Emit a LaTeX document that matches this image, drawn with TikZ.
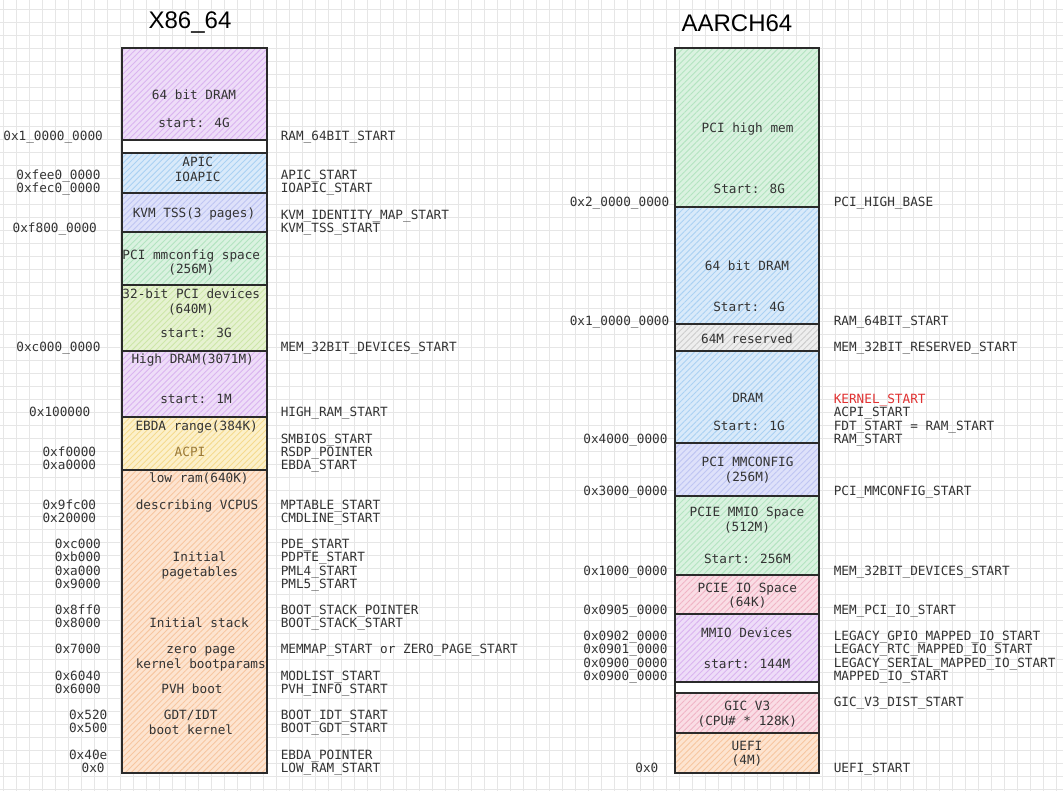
\documentclass[tikz,border=0pt]{standalone}
\usepackage{fontspec}
\usetikzlibrary{patterns.meta}
\newfontfamily\monofam{DejaVu Sans Mono}
\newfontfamily\titlefam{Liberation Sans}
\definecolor{gridc}{HTML}{E6E6E6}
\definecolor{linec}{HTML}{2A2A2A}
\definecolor{txtc}{HTML}{333333}
\definecolor{acpic}{HTML}{9A7A3A}
\definecolor{redc}{HTML}{E03131}
\definecolor{purpleb}{HTML}{EEDDF8}\definecolor{purpleh}{HTML}{DAB4F0}
\definecolor{blueb}{HTML}{D9EAFA}\definecolor{blueh}{HTML}{AAD1F3}
\definecolor{lavb}{HTML}{DEE1FA}\definecolor{lavh}{HTML}{BFC5F3}
\definecolor{greenb}{HTML}{DAF2E0}\definecolor{greenh}{HTML}{B3E4C0}
\definecolor{ygreenb}{HTML}{E6F2D1}\definecolor{ygreenh}{HTML}{CDE6A8}
\definecolor{yellowb}{HTML}{FCF0CA}\definecolor{yellowh}{HTML}{F5DA8E}
\definecolor{orangeb}{HTML}{FDE4D0}\definecolor{orangeh}{HTML}{F7C6A0}
\definecolor{pinkb}{HTML}{FADDE5}\definecolor{pinkh}{HTML}{F0B4C5}
\definecolor{grayb}{HTML}{EEEEEE}\definecolor{grayh}{HTML}{CCCCCC}
\begin{document}
\begin{tikzpicture}[x=1pt,y=-1pt,
  gridline/.style={draw=gridc, line width=0.7pt},
  mbox/.style={draw=linec, line width=1.6pt, inner sep=0pt,
    preaction={fill=#1b},
    pattern={Lines[angle=45,distance=4.2pt,line width=0.9pt]}, pattern color=#1h},
  gapbox/.style={draw=linec, line width=1.6pt, inner sep=0pt, fill=white},
  txt/.style={font={\monofam\fontsize{12.7}{14}\selectfont}, text=txtc, inner sep=0pt, text height=9.2pt, text depth=0pt},
  lab/.style={txt, anchor=west},
  adr/.style={txt, anchor=east},
  ttl/.style={font={\titlefam\fontsize{24}{28}\selectfont}, text=black, inner sep=0pt}
]
\useasboundingbox (0,0) rectangle (1063,791);
\fill[white] (0,0) rectangle (1063,791);
% grid
\foreach \i in {0,...,81} {\draw[gridline] ({3+13*\i},0) -- ({3+13*\i},791);}
\foreach \j in {0,...,60} {\draw[gridline] (0,{9+13*\j}) -- (1063,{9+13*\j});}

% titles
\node[ttl] (t1) at (190,23) {X86\_64};
\node[ttl] (t2) at (737,23) {AARCH64};

% ---------- left column boxes (x 122..267) ----------
\node[mbox=purple, minimum width=145pt, minimum height=92pt] (l1) at (194.5,94) {};
\node[gapbox, minimum width=145pt, minimum height=13pt] (lg) at (194.5,146.5) {};
\node[mbox=blue, minimum width=145pt, minimum height=40pt] (l2) at (194.5,173) {};
\node[mbox=lav, minimum width=145pt, minimum height=39pt] (l3) at (194.5,212.5) {};
\node[mbox=green, minimum width=145pt, minimum height=53pt] (l4) at (194.5,258.5) {};
\node[mbox=ygreen, minimum width=145pt, minimum height=66pt] (l5) at (194.5,318) {};
\node[mbox=purple, minimum width=145pt, minimum height=66pt] (l6) at (194.5,384) {};
\node[mbox=yellow, minimum width=145pt, minimum height=53pt] (l7) at (194.5,443.5) {};
\node[mbox=orange, minimum width=145pt, minimum height=303pt] (l8) at (194.5,621.5) {};

% ---------- right column boxes (x 675..819) ----------
\node[mbox=green, minimum width=144pt, minimum height=159pt] (r1) at (747,127.5) {};
\node[mbox=blue, minimum width=144pt, minimum height=117pt] (r2) at (747,265.5) {};
\node[mbox=gray, minimum width=144pt, minimum height=27pt] (r3) at (747,337.5) {};
\node[mbox=blue, minimum width=144pt, minimum height=92pt] (r4) at (747,397) {};
\node[mbox=lav, minimum width=144pt, minimum height=53pt] (r5) at (747,469.5) {};
\node[mbox=green, minimum width=144pt, minimum height=79pt] (r6) at (747,535.5) {};
\node[mbox=pink, minimum width=144pt, minimum height=39pt] (r7) at (747,594.5) {};
\node[mbox=purple, minimum width=144pt, minimum height=68pt] (r8) at (747,648) {};
\node[gapbox, minimum width=144pt, minimum height=11pt] (rg) at (747,687.5) {};
\node[mbox=pink, minimum width=144pt, minimum height=40pt] (r9) at (747,713) {};
\node[mbox=orange, minimum width=144pt, minimum height=40pt] (r10) at (747,753) {};

% ---------- left column box texts ----------
\node[txt] (l1a) at (194,95) {64 bit DRAM};
\node[txt] (l1b) at (194,122.7) {start: 4G};
\node[txt] (l2a) at (197.7,162.3) {APIC};
\node[txt] (l2b) at (197.7,176.7) {IOAPIC};
\node[txt] (l3a) at (194,213.3) {KVM TSS(3 pages)};
\node[txt] (l4a) at (191.3,255) {PCI mmconfig space};
\node[txt] (l4b) at (191.3,269.3) {(256M)};
\node[txt] (l5a) at (191.3,294) {32-bit PCI devices};
\node[txt] (l5b) at (191,309) {(640M)};
\node[txt] (l5c) at (196,333.3) {start: 3G};
\node[txt] (l6a) at (192.7,359.3) {High DRAM(3071M)};
\node[txt] (l6b) at (196,399.3) {start: 1M};
\node[txt] (l7a) at (196.7,425.7) {EBDA range(384K)};
\node[txt, text=acpic] (l7b) at (190,452) {ACPI};
\node[txt] (l8a) at (198.9,478.3) {low ram(640K)};
\node[txt] (l8b) at (197,505) {describing VCPUS};
\node[txt] (l8c) at (199.5,557.3) {Initial};
\node[txt] (l8d) at (199.9,572.3) {pagetables};
\node[txt] (l8e) at (199,623.3) {Initial stack};
\node[txt] (l8f) at (200.8,649.3) {zero page};
\node[txt] (l8g) at (200.8,664) {kernel bootparams};
\node[txt] (l8h) at (192,689) {PVH boot};
\node[txt] (l8i) at (190.7,715) {GDT/IDT};
\node[txt] (l8j) at (191,730) {boot kernel};

% ---------- left column addresses ----------
\node[adr] (la1) at (103,136) {0x1\_0000\_0000};
\node[adr] (la2) at (100.7,175) {0xfee0\_0000};
\node[adr] (la3) at (100.7,188.3) {0xfec0\_0000};
\node[adr] (la4) at (97,228.3) {0xf800\_0000};
\node[adr] (la5) at (100.7,346.7) {0xc000\_0000};
\node[adr] (la6) at (90.6,412.3) {0x100000};
\node[adr] (la7) at (96.3,452) {0xf0000};
\node[adr] (la8) at (96.3,465) {0xa0000};
\node[adr] (la9) at (96.3,505) {0x9fc00};
\node[adr] (la10) at (96.3,517.7) {0x20000};
\node[adr] (la11) at (101,544) {0xc000};
\node[adr] (la12) at (101,557.3) {0xb000};
\node[adr] (la13) at (101,570.7) {0xa000};
\node[adr] (la14) at (101,583.7) {0x9000};
\node[adr] (la15) at (101,610) {0x8ff0};
\node[adr] (la16) at (101,623.3) {0x8000};
\node[adr] (la17) at (101,649.3) {0x7000};
\node[adr] (la18) at (101,675.7) {0x6040};
\node[adr] (la19) at (101,689) {0x6000};
\node[adr] (la20) at (107.5,715) {0x520};
\node[adr] (la21) at (107.5,728.3) {0x500};
\node[adr] (la22) at (107.5,755) {0x40e};
\node[adr] (la23) at (104.8,768.3) {0x0};

% ---------- left column names ----------
\node[lab] (ln1) at (280.6,136) {RAM\_64BIT\_START};
\node[lab] (ln2) at (280.6,175) {APIC\_START};
\node[lab] (ln3) at (280.6,188.3) {IOAPIC\_START};
\node[lab] (ln4) at (280.6,215) {KVM\_IDENTITY\_MAP\_START};
\node[lab] (ln5) at (280.6,228.3) {KVM\_TSS\_START};
\node[lab] (ln6) at (280.6,346.7) {MEM\_32BIT\_DEVICES\_START};
\node[lab] (ln7) at (280.6,412.3) {HIGH\_RAM\_START};
\node[lab] (ln8) at (280.6,439) {SMBIOS\_START};
\node[lab] (ln9) at (280.6,452) {RSDP\_POINTER};
\node[lab] (ln10) at (280.6,465) {EBDA\_START};
\node[lab] (ln11) at (280.6,505) {MPTABLE\_START};
\node[lab] (ln12) at (280.6,517.7) {CMDLINE\_START};
\node[lab] (ln13) at (280.6,544) {PDE\_START};
\node[lab] (ln14) at (280.6,557.3) {PDPTE\_START};
\node[lab] (ln15) at (280.6,570.7) {PML4\_START};
\node[lab] (ln16) at (280.6,583.7) {PML5\_START};
\node[lab] (ln17) at (280.6,610) {BOOT\_STACK\_POINTER};
\node[lab] (ln18) at (280.6,623.3) {BOOT\_STACK\_START};
\node[lab] (ln19) at (280.6,649.3) {MEMMAP\_START or ZERO\_PAGE\_START};
\node[lab] (ln20) at (280.6,675.7) {MODLIST\_START};
\node[lab] (ln21) at (280.6,689) {PVH\_INFO\_START};
\node[lab] (ln22) at (280.6,715) {BOOT\_IDT\_START};
\node[lab] (ln23) at (280.6,728.3) {BOOT\_GDT\_START};
\node[lab] (ln24) at (280.6,755) {EBDA\_POINTER};
\node[lab] (ln25) at (280.6,768.3) {LOW\_RAM\_START};

% ---------- right column box texts ----------
\node[txt] (r1a) at (747.6,128.3) {PCI high mem};
\node[txt] (r1b) at (749.3,188.7) {Start: 8G};
\node[txt] (r2a) at (747,266) {64 bit DRAM};
\node[txt] (r2b) at (749,306.7) {Start: 4G};
\node[txt] (r3a) at (747,339) {64M reserved};
\node[txt] (r4a) at (747.6,397.7) {DRAM};
\node[txt] (r4b) at (749,425.7) {Start: 1G};
\node[txt] (r5a) at (747.6,462.3) {PCI MMCONFIG};
\node[txt] (r5b) at (747.6,477.3) {(256M)};
\node[txt] (r6a) at (747,512.3) {PCIE MMIO Space};
\node[txt] (r6b) at (747,527.3) {(512M)};
\node[txt] (r6c) at (747.4,559.3) {Start: 256M};
\node[txt] (r7a) at (747.3,587.7) {PCIE IO Space};
\node[txt] (r7b) at (747.3,601.7) {(64K)};
\node[txt] (r8a) at (747,633.3) {MMIO Devices};
\node[txt] (r8b) at (747,664) {start: 144M};
\node[txt] (r9a) at (747.3,706) {GIC V3};
\node[txt] (r9b) at (747.3,720.7) {(CPU\# * 128K)};
\node[txt] (r10a) at (747,746) {UEFI};
\node[txt] (r10b) at (747,760) {(4M)};

% ---------- right column addresses ----------
\node[adr] (ra1) at (669.4,201.7) {0x2\_0000\_0000};
\node[adr] (ra2) at (669.4,320.7) {0x1\_0000\_0000};
\node[adr] (ra3) at (667.7,439) {0x4000\_0000};
\node[adr] (ra4) at (667.7,491) {0x3000\_0000};
\node[adr] (ra5) at (667.7,570.7) {0x1000\_0000};
\node[adr] (ra6) at (667.7,610) {0x0905\_0000};
\node[adr] (ra7) at (667.7,636.3) {0x0902\_0000};
\node[adr] (ra8) at (667.7,649.3) {0x0901\_0000};
\node[adr] (ra9) at (667.7,662.7) {0x0900\_0000};
\node[adr] (ra10) at (667.7,675.7) {0x0900\_0000};
\node[adr] (ra11) at (658.5,768.3) {0x0};

% ---------- right column names ----------
\node[lab] (rn1) at (833.6,201.7) {PCI\_HIGH\_BASE};
\node[lab] (rn2) at (833.6,320.7) {RAM\_64BIT\_START};
\node[lab] (rn3) at (833.6,346.7) {MEM\_32BIT\_RESERVED\_START};
\node[lab, text=redc] (rn4) at (833.6,399) {KERNEL\_START};
\node[lab] (rn5) at (833.6,412.3) {ACPI\_START};
\node[lab] (rn6) at (833.6,425.7) {FDT\_START = RAM\_START};
\node[lab] (rn7) at (833.6,439) {RAM\_START};
\node[lab] (rn8) at (833.6,491) {PCI\_MMCONFIG\_START};
\node[lab] (rn9) at (833.6,570.7) {MEM\_32BIT\_DEVICES\_START};
\node[lab] (rn10) at (833.6,610) {MEM\_PCI\_IO\_START};
\node[lab] (rn11) at (833.6,636.3) {LEGACY\_GPIO\_MAPPED\_IO\_START};
\node[lab] (rn12) at (833.6,649.3) {LEGACY\_RTC\_MAPPED\_IO\_START};
\node[lab] (rn13) at (833.6,662.7) {LEGACY\_SERIAL\_MAPPED\_IO\_START};
\node[lab] (rn14) at (833.6,675.7) {MAPPED\_IO\_START};
\node[lab] (rn15) at (833.6,702.3) {GIC\_V3\_DIST\_START};
\node[lab] (rn16) at (833.6,768.3) {UEFI\_START};
\end{tikzpicture}
\end{document}
